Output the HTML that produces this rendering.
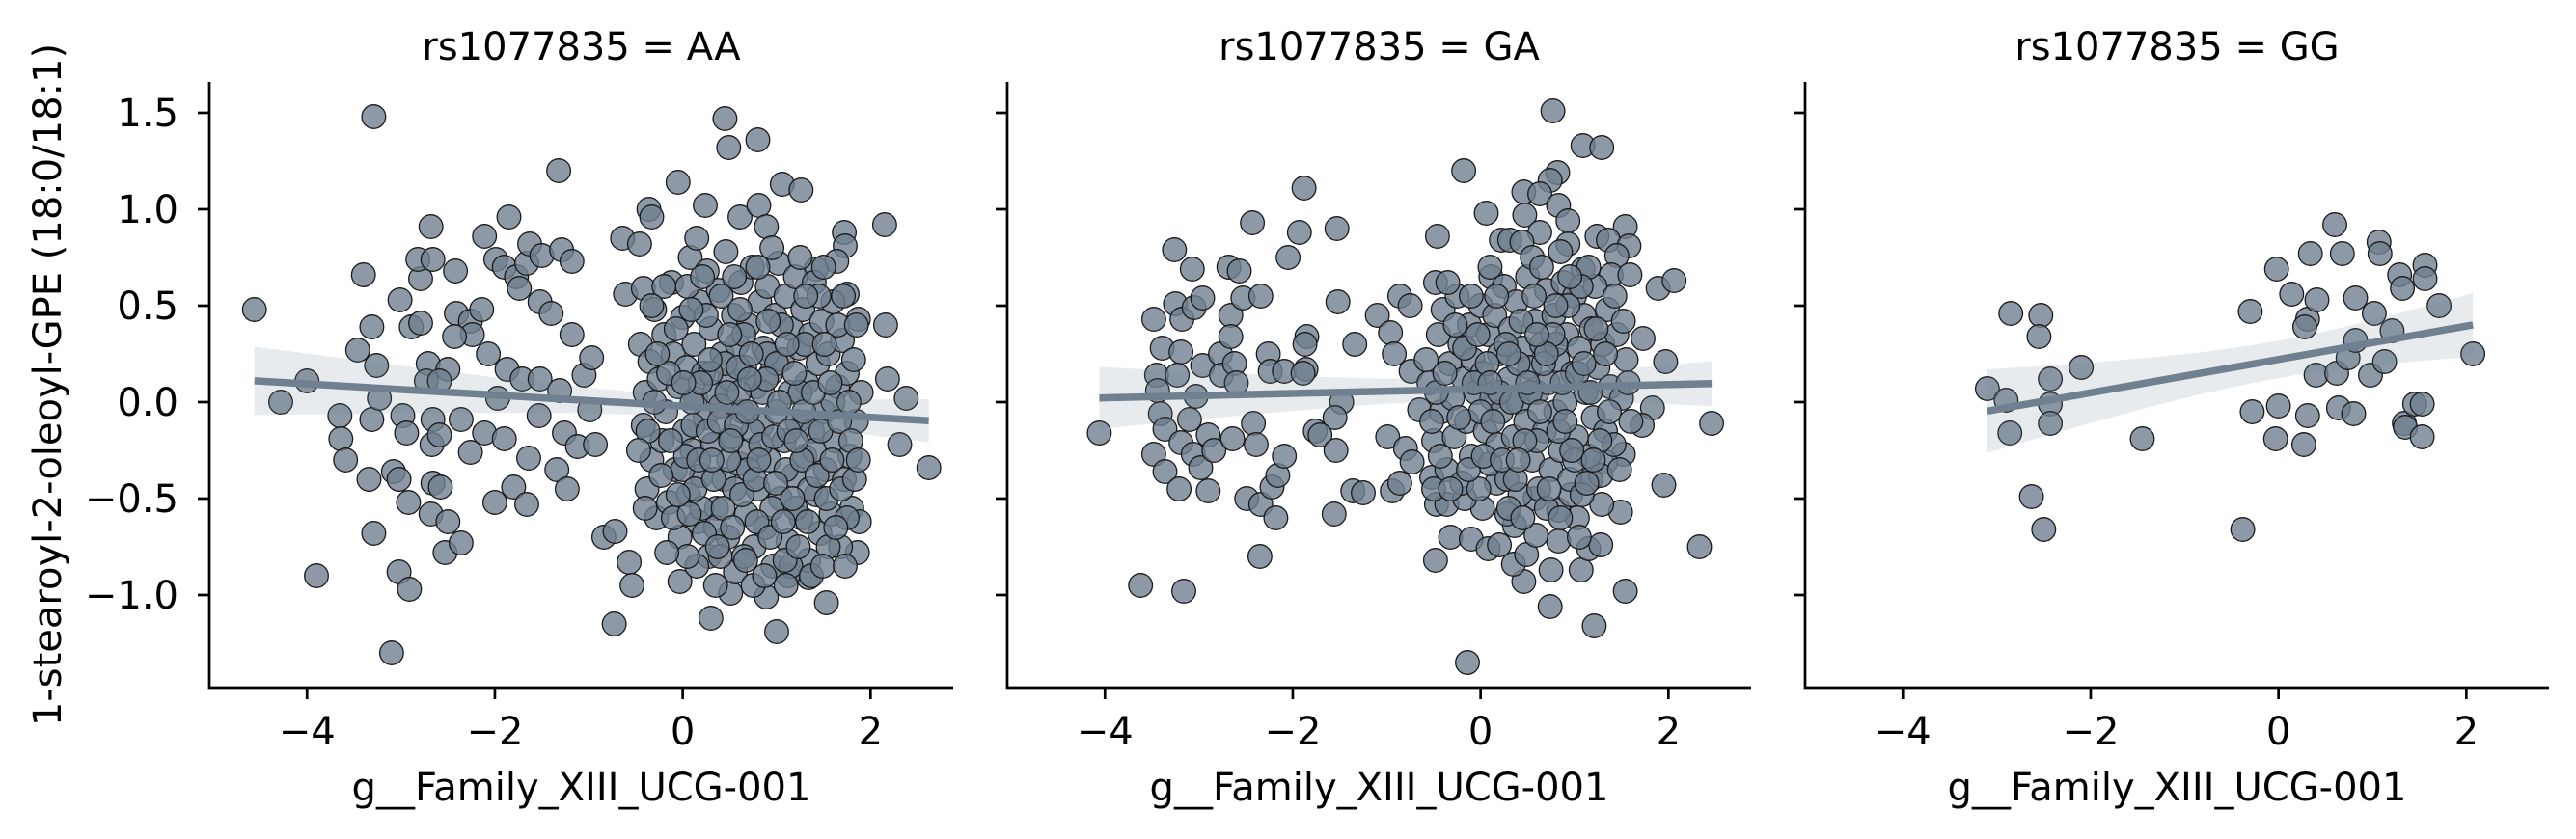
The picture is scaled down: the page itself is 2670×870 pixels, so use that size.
<!DOCTYPE html>
<html><head><meta charset="utf-8">
<style>
html,body{margin:0;padding:0;background:#fff;}
svg{display:block;font-family:"DejaVu Sans","Liberation Sans",sans-serif;}
</style></head>
<body>
<svg id="chart" width="2670" height="870" viewBox="0 0 2670 870" xmlns="http://www.w3.org/2000/svg"></svg>
<script>
// ---- data ----
const panelTitles = ["rs1077835 = AA", "rs1077835 = GA", "rs1077835 = GG"];
const xTicks = [-4, -2, 0, 2];
const yTicks = [1.5, 1.0, 0.5, 0.0, -0.5, -1.0];
const yTickLabels = ["1.5", "1.0", "0.5", "0.0", "\u22120.5", "\u22121.0"];
const xTickLabels = ["\u22124", "\u22122", "0", "2"];

const aaPoints = [
[-4.56,0.48],[-4.28,0.00],[-4.00,0.11],[-3.90,-0.90],[-3.40,0.66],[-3.46,0.27],[-3.31,0.39],[-3.29,1.48],[-3.29,-0.68],[-3.34,-0.40],
[-3.31,-0.09],[-3.65,-0.07],[-3.64,-0.19],[-3.59,-0.30],[-3.26,0.19],[-3.23,0.02],[-3.10,-1.30],[-3.02,-0.88],[-2.91,-0.97],[-2.92,-0.52],
[-3.08,-0.36],[-3.02,-0.40],[-3.01,0.53],[-2.89,0.39],[-2.79,0.41],[-2.79,0.64],[-2.82,0.74],[-2.68,0.91],[-2.66,0.74],[-2.71,0.20],
[-2.73,0.11],[-2.98,-0.07],[-2.94,-0.16],[-2.66,-0.09],[-2.67,-0.22],[-2.59,-0.17],[-2.66,-0.42],[-2.58,-0.44],[-2.68,-0.58],[-2.50,-0.62],
[-2.53,-0.78],[-2.36,-0.73],[-2.42,0.68],[-2.41,0.46],[-2.26,0.42],[-2.14,0.48],[-2.24,0.35],[-2.43,0.34],[-2.50,0.17],[-2.59,0.11],
[-2.36,-0.09],[-2.26,-0.26],[-2.11,-0.16],[-1.90,-0.19],[-2.00,-0.52],[-2.11,0.86],[-1.99,0.74],[-1.85,0.96],[-1.90,0.70],[-1.77,0.65],
[-1.74,0.59],[-1.66,0.72],[-1.63,0.82],[-1.50,0.76],[-1.29,0.79],[-1.18,0.73],[-1.32,1.20],[-1.52,0.52],[-1.40,0.46],[-1.18,0.35],
[-2.07,0.25],[-1.87,0.17],[-1.71,0.12],[-1.52,0.12],[-1.97,0.02],[-1.53,-0.07],[-1.64,-0.29],[-1.80,-0.44],[-1.66,-0.53],[-1.34,-0.35],
[-1.23,-0.45],[-1.26,-0.16],[-1.12,-0.23],[-0.93,-0.22],[-1.31,0.06],[-1.05,0.14],[-0.97,0.23],[-0.99,-0.04],[-0.73,-1.15],[-0.84,-0.70],
[-0.72,-0.67],[-0.57,-0.83],[-0.54,-0.95],[-0.64,0.85],[-0.61,0.56],[-0.46,0.82],[-0.42,0.59],[-0.36,1.00],[-0.33,0.96],[-0.05,1.14],
[0.24,1.02],[0.45,1.47],[0.49,1.32],[0.80,1.36],[1.06,1.13],[1.26,1.10],[0.61,0.96],[0.81,1.02],[0.89,0.91],[2.15,0.92],
[2.16,0.40],[2.38,0.02],[2.62,-0.34],[2.31,-0.22],[2.18,0.12],[1.86,-0.78],[1.53,-1.04],[1.00,-1.19],[0.30,-1.12],[-0.03,-0.93],
[0.51,-0.99],[1.34,-0.91],[1.12,-0.90],[0.89,-1.01],[1.72,0.88],[1.73,0.81],[1.75,0.56],[1.87,0.43],[1.64,0.73],[1.42,0.69],
[-0.45,0.30],[-0.42,-0.12],[-0.40,0.05],[-0.38,-0.45],[-0.35,0.21],[-0.33,-0.30],[-0.30,0.48],[-0.28,-0.60],[-0.25,0.12],[-0.22,-0.20],
[-0.20,0.35],[-0.18,-0.05],[-0.15,-0.52],[-0.12,0.62],[-0.10,0.25],[-0.08,-0.35],[-0.05,0.08],[-0.03,-0.70],[0.00,0.44],[0.02,-0.15],
[0.04,0.18],[0.06,-0.48],[0.08,0.75],[0.10,-0.25],[0.12,0.30],[0.14,0.02],[0.16,-0.62],[0.18,0.52],[0.20,-0.38],[0.22,0.15],
[0.24,-0.08],[0.26,0.68],[0.28,-0.80],[0.30,0.38],[0.32,-0.22],[0.34,0.05],[0.36,-0.55],[0.38,0.58],[0.40,-0.02],[0.42,0.25],
[0.44,-0.40],[0.46,0.78],[0.48,-0.70],[0.50,0.12],[0.52,-0.18],[0.54,0.45],[0.56,-0.88],[0.58,0.30],[0.60,-0.32],[0.62,0.62],
[0.64,-0.05],[0.66,0.18],[0.68,-0.58],[0.70,0.40],[0.72,-0.25],[0.74,0.70],[0.76,-0.75],[0.78,0.08],[0.80,-0.45],[0.82,0.52],
[0.84,-0.12],[0.86,0.28],[0.88,-0.65],[0.90,0.60],[0.92,-0.30],[0.94,0.15],[0.96,-0.85],[0.98,0.45],[1.00,-0.05],[1.02,0.72],
[1.04,-0.50],[1.06,0.22],[1.08,-0.20],[1.10,0.55],[1.12,-0.72],[1.14,0.05],[1.16,0.38],[1.18,-0.38],[1.20,0.65],[1.22,-0.10],
[1.24,0.28],[1.26,-0.60],[1.28,0.48],[1.30,-0.28],[1.32,0.10],[1.34,-0.82],[1.36,0.35],[1.38,-0.15],[1.40,0.62],[1.42,-0.48],
[1.44,0.20],[1.46,-0.68],[1.48,0.42],[1.50,-0.05],[1.52,-0.35],[1.55,0.25],[1.58,-0.58],[1.60,0.52],[1.62,-0.20],[1.65,0.08],
[1.68,-0.75],[1.70,0.32],[1.72,-0.40],[1.75,0.15],[1.78,-0.28],[1.80,-0.55],[1.82,0.22],[1.85,-0.10],[1.88,-0.62],[1.90,0.05],
[-0.20,0.60],[-0.10,-0.60],[0.05,0.60],[0.15,-0.85],[0.25,0.45],[0.35,-0.65],[0.45,0.20],[0.55,-0.45],[0.65,0.35],[0.75,-0.15],
[0.85,0.05],[0.95,-0.55],[1.05,0.40],[1.15,-0.85],[1.25,0.05],[1.35,-0.45],[1.45,0.55],[1.55,-0.75],[1.65,0.40],[1.75,-0.60],
[0.10,0.00],[0.30,0.15],[0.50,0.35],[0.70,-0.35],[0.90,0.25],[1.10,-0.35],[1.30,0.30],[0.20,-0.55],[0.40,-0.80],[0.60,0.05],
[0.80,0.70],[1.00,0.20],[1.20,-0.55],[1.40,-0.25],[1.60,0.00],[-0.30,0.00],[-0.15,0.15],[0.00,-0.35],[0.15,0.85],[0.55,0.65],
[0.95,0.80],[1.25,0.75],[0.35,-0.95],[0.75,-0.95],[1.10,-0.95],[0.65,-0.80],[0.05,-0.80],[-0.40,-0.55],[1.85,0.40],[1.50,0.70],
[0.03,-0.28],[0.07,-0.58],[0.11,-0.12],[0.13,-0.45],[0.17,-0.30],[0.19,0.10],[0.23,-0.68],[0.27,-0.15],[0.29,0.22],[0.33,-0.40],
[0.37,-0.75],[0.39,-0.10],[0.43,-0.55],[0.47,0.05],[0.49,-0.30],[0.53,-0.65],[0.57,-0.12],[0.59,0.18],[0.63,-0.48],[0.67,-0.82],
[0.69,-0.05],[0.73,0.25],[0.77,-0.40],[0.79,-0.62],[0.83,-0.22],[0.87,-0.90],[0.89,0.12],[0.93,-0.70],[0.97,-0.18],[0.99,-0.42],
[1.03,0.00],[1.07,-0.62],[1.09,-0.82],[1.13,-0.15],[1.17,-0.50],[1.19,0.15],[1.23,-0.75],[1.27,-0.30],[1.29,-0.05],[1.33,-0.62],
[1.37,-0.90],[1.39,0.05],[1.43,-0.38],[1.47,-0.15],[1.49,-0.85],[1.53,-0.50],[1.57,0.10],[1.59,-0.30],[1.63,-0.65],[1.67,-0.10],
[1.69,-0.45],[1.73,-0.85],[1.77,0.00],[1.79,-0.20],[1.83,-0.40],[1.87,-0.30],[-0.05,-0.48],[-0.13,-0.20],[-0.23,-0.38],[-0.27,0.25],
[-0.37,-0.15],[-0.47,-0.25],[-0.17,-0.78],[-0.07,0.38],[0.09,0.48],[0.21,0.65],[0.41,0.55],[0.61,0.48],[0.71,0.12],[0.91,0.42],
[1.11,0.30],[1.31,0.55],[1.51,0.30],[1.71,0.55],[0.51,-0.20],[0.81,-0.30],[1.21,-0.20],[0.31,-0.30],[0.01,0.10],[-0.33,0.50]
];

const gaPoints = [
[-4.06,-0.16],[-3.62,-0.95],[-3.16,-0.98],[-3.26,0.79],[-3.07,0.69],[-3.48,0.43],[-3.25,0.51],[-3.18,0.43],[-3.05,0.49],[-2.96,0.54],
[-3.39,0.28],[-3.19,0.26],[-3.45,0.14],[-3.23,0.14],[-3.44,0.06],[-2.96,0.19],[-3.03,0.03],[-3.41,-0.06],[-3.36,-0.14],[-3.10,-0.09],
[-3.19,-0.21],[-3.48,-0.27],[-3.36,-0.36],[-3.21,-0.45],[-3.06,-0.27],[-2.98,-0.34],[-2.90,-0.46],[-2.90,-0.17],[-2.84,-0.25],[-2.77,0.25],
[-2.76,0.14],[-2.68,0.70],[-2.57,0.68],[-2.66,0.45],[-2.66,0.34],[-2.62,0.20],[-2.60,0.10],[-2.53,0.54],[-2.43,0.93],[-2.34,0.55],
[-2.26,0.25],[-2.24,0.16],[-2.09,0.16],[-2.64,-0.19],[-2.42,-0.11],[-2.39,-0.22],[-2.49,-0.50],[-2.34,-0.53],[-2.18,-0.60],[-2.22,-0.44],
[-2.16,-0.38],[-2.09,-0.28],[-2.35,-0.80],[-2.05,0.75],[-1.93,0.88],[-1.88,1.11],[-1.53,0.90],[-1.85,0.34],[-1.87,0.30],[-1.86,0.17],
[-1.89,0.15],[-1.52,0.52],[-1.34,0.30],[-1.48,0.00],[-1.55,-0.08],[-1.76,-0.15],[-1.71,-0.17],[-1.54,-0.25],[-1.56,-0.58],[-1.36,-0.46],
[-1.25,-0.47],[-1.10,0.45],[-0.96,0.36],[-0.92,0.25],[-0.86,0.55],[-0.75,0.50],[-0.99,-0.18],[-0.80,-0.24],[-0.73,-0.31],[-0.94,-0.46],
[-0.86,-0.42],[-0.52,-0.39],[-0.47,-0.53],[-0.36,-0.53],[-0.32,-0.70],[-0.10,-0.71],[-0.48,-0.82],[-0.14,-1.35],[-0.18,1.20],[-0.46,0.86],
[0.06,0.98],[-0.48,0.62],[0.11,0.65],[-0.74,0.16],[-0.65,-0.04],
[0.77,1.51],[1.09,1.33],[1.29,1.32],[0.82,1.19],[0.74,1.15],[0.46,1.09],[0.63,1.08],[0.83,1.02],[0.47,0.97],[0.93,0.94],
[1.54,0.91],[1.24,0.86],[1.36,0.84],[1.58,0.81],[0.93,0.82],[0.63,0.88],[0.22,0.84],[0.31,0.84],[0.44,0.83],[1.45,0.76],
[1.09,0.69],[1.39,0.66],[1.59,0.66],[1.89,0.59],[2.06,0.63],[1.97,0.21],[1.73,0.33],[1.83,-0.03],[1.72,-0.12],[2.46,-0.11],
[1.52,-0.27],[1.95,-0.43],[2.33,-0.75],[1.49,-0.57],[1.29,-0.53],[1.54,-0.98],[1.21,-1.16],[0.74,-1.06],[1.07,-0.87],[0.75,-0.87],
[0.46,-0.93],[0.35,-0.84],[0.49,-0.79],[0.08,-0.76],[0.20,-0.74],[0.83,-0.72],[1.15,-0.76],[1.28,-0.74],[0.59,-0.69],[0.36,-0.64],
[0.28,-0.58],[0.58,-0.50],[0.02,-0.55],[-0.17,-0.50],[0.17,-0.42],[1.03,-0.60],[0.83,-0.56],[0.96,-0.48],[1.17,-0.40],[1.33,-0.31],
[-0.55,0.10],[-0.50,-0.20],[-0.45,0.35],[-0.42,-0.05],[-0.40,0.48],[-0.36,-0.35],[-0.33,0.20],[-0.30,0.02],[-0.28,-0.18],[-0.25,0.55],
[-0.22,0.30],[-0.20,-0.42],[-0.18,0.12],[-0.15,-0.10],[-0.12,0.40],[-0.10,-0.28],[-0.08,0.22],[-0.05,0.05],[-0.02,-0.45],[0.00,0.50],
[0.02,0.15],[0.05,-0.15],[0.08,0.35],[0.10,-0.32],[0.12,0.02],[0.15,0.45],[0.18,-0.22],[0.20,0.25],[0.22,-0.05],[0.25,0.60],
[0.28,-0.40],[0.30,0.12],[0.32,0.38],[0.35,-0.18],[0.38,0.52],[0.40,0.00],[0.42,-0.48],[0.45,0.28],[0.48,-0.10],[0.50,0.65],
[0.52,0.18],[0.55,-0.30],[0.58,0.42],[0.60,0.05],[0.62,-0.45],[0.65,0.30],[0.68,-0.15],[0.70,0.58],[0.72,0.10],[0.75,-0.35],
[0.78,0.45],[0.80,-0.05],[0.82,0.22],[0.85,-0.25],[0.88,0.62],[0.90,0.00],[0.92,0.35],[0.95,-0.40],[0.98,0.15],[1.00,0.55],
[1.02,-0.18],[1.05,0.28],[1.08,-0.48],[1.10,0.45],[1.12,0.05],[1.15,-0.28],[1.18,0.38],[1.20,-0.08],[1.22,0.60],[1.25,0.18],
[1.28,-0.38],[1.30,0.30],[1.33,-0.15],[1.35,0.48],[1.38,0.08],[1.42,-0.22],[1.45,0.35],[1.50,0.02],[1.55,0.22],[1.60,-0.10],
[0.00,-0.05],[0.20,0.05],[0.40,0.20],[0.60,-0.20],[0.80,0.30],[1.00,-0.30],[0.30,-0.55],[0.70,-0.55],[0.55,0.75],[0.85,0.78],
[-0.35,0.62],[0.10,0.70],[1.15,0.70],[-0.50,-0.45],
[-0.58,0.22],[-0.52,-0.10],[-0.47,0.05],[-0.43,-0.28],[-0.38,0.15],[-0.32,-0.45],[-0.27,0.40],[-0.23,-0.08],[-0.17,0.28],[-0.13,-0.35],
[-0.07,0.10],[-0.03,0.35],[0.03,-0.28],[0.07,0.20],[0.13,-0.10],[0.17,0.55],[0.23,-0.30],[0.27,0.30],[0.33,0.00],[0.37,-0.40],
[0.43,0.42],[0.47,-0.20],[0.53,0.05],[0.57,0.55],[0.63,-0.05],[0.67,0.20],[0.73,-0.45],[0.77,0.35],[0.83,-0.15],[0.87,0.10],
[0.93,0.50],[0.97,-0.25],[1.03,0.15],[1.07,0.60],[1.13,-0.42],[1.17,0.05],[1.23,0.38],[1.27,-0.20],[1.33,0.25],[1.37,-0.05],
[1.43,0.55],[1.48,-0.35],[1.52,0.42],[1.57,0.10],[0.50,0.10],[0.70,0.25],[0.90,-0.10],[0.30,0.25],[0.10,0.10],[1.10,0.20],
[0.60,0.35],[0.40,-0.30],[0.80,0.50],[1.20,-0.30],[-0.10,0.55],[0.95,0.65],[0.65,0.70],[0.45,-0.60],[0.85,-0.60],[1.05,-0.70]
];

const ggPoints = [
[-3.10,0.07],[-2.90,0.01],[-2.86,-0.16],[-2.85,0.46],[-2.63,-0.49],[-2.53,0.45],[-2.55,0.34],[-2.50,-0.66],[-2.43,0.12],[-2.43,-0.01],
[-2.43,-0.11],[-2.10,0.18],[-1.45,-0.19],[-0.38,-0.66],[-0.30,0.47],[-0.28,-0.05],[-0.02,0.69],[0.00,-0.02],[-0.03,-0.19],[0.14,0.56],
[0.27,-0.22],[0.31,-0.07],[0.31,0.43],[0.28,0.39],[0.34,0.77],[0.41,0.53],[0.40,0.14],[0.60,0.92],[0.62,0.15],[0.64,-0.03],
[0.68,0.77],[0.74,0.23],[0.80,-0.06],[0.82,0.54],[0.82,0.32],[0.98,0.14],[1.02,0.46],[1.07,0.83],[1.08,0.77],[1.13,0.21],
[1.21,0.37],[1.29,0.66],[1.32,0.59],[1.34,-0.11],[1.35,-0.13],[1.45,-0.01],[1.53,-0.01],[1.53,-0.18],[1.56,0.71],[1.56,0.64],
[1.71,0.50],[2.07,0.25]
];

// ---- layout ----
const NS = "http://www.w3.org/2000/svg";
const svg = document.getElementById("chart");
const panelLefts = [217, 1044, 1871];
const plotW = 771, plotTop = 85, plotBottom = 713;
const xMin = -5.04, xMax = 2.88, yMin = -1.48, yMax = 1.66;
const allPanels = [aaPoints, gaPoints, ggPoints];
const panelKeys = ["aa", "ga", "gg"];

function el(tag, attrs, parent) {
  const e = document.createElementNS(NS, tag);
  for (const k in attrs) e.setAttribute(k, attrs[k]);
  (parent || svg).appendChild(e);
  return e;
}

function regress(pts) {
  const n = pts.length;
  let mx = 0, my = 0;
  pts.forEach(p => { mx += p[0]; my += p[1]; });
  mx /= n; my /= n;
  let sxx = 0, sxy = 0;
  pts.forEach(p => { sxx += (p[0]-mx)*(p[0]-mx); sxy += (p[0]-mx)*(p[1]-my); });
  const b = sxy / sxx, a = my - b*mx;
  let sse = 0;
  pts.forEach(p => { const r = p[1]-(a+b*p[0]); sse += r*r; });
  const s = Math.sqrt(sse/(n-2));
  return {a, b, s, n, mx, sxx};
}

allPanels.forEach((pts, pi) => {
  const L = panelLefts[pi];
  const xs = v => L + (v - xMin) / (xMax - xMin) * plotW;
  const ys = v => plotTop + (yMax - v) / (yMax - yMin) * (plotBottom - plotTop);
  const g = el("g", {});
  
  

  const t = el("text", {x: L + plotW/2, y: 62, "text-anchor": "middle", "font-size": 40, fill: "#000"}, g);
  t.textContent = panelTitles[pi];
  
  

  const pg = el("g", {}, g);
  
  
  pts.forEach(p => {
    const c = el("circle", {cx: xs(p[0]).toFixed(1), cy: ys(p[1]).toFixed(1), r: 12.3,
      fill: "rgba(112,128,144,0.8)", stroke: "#1a1a1a", "stroke-width": 1.3}, pg);
    
    
  });

  const R = regress(pts);
  let x0 = Infinity, x1 = -Infinity;
  pts.forEach(p => { x0 = Math.min(x0, p[0]); x1 = Math.max(x1, p[0]); });
  const N = 60, up = [], lo = [];
  for (let i = 0; i <= N; i++) {
    const xv = x0 + (x1 - x0) * i / N;
    const yv = R.a + R.b * xv;
    const se = R.s * Math.sqrt(1/R.n + (xv - R.mx)*(xv - R.mx)/R.sxx) * 1.96;
    up.push(xs(xv).toFixed(1) + "," + ys(yv + se).toFixed(1));
    lo.push(xs(xv).toFixed(1) + "," + ys(yv - se).toFixed(1));
  }
  const band = el("polygon", {points: up.concat(lo.reverse()).join(" "), fill: "rgba(112,128,144,0.16)", stroke: "none"}, g);
  
  
  const line = el("line", {x1: xs(x0), y1: ys(R.a + R.b*x0), x2: xs(x1), y2: ys(R.a + R.b*x1),
    stroke: "#708090", "stroke-width": 7.5}, g);
  
  

  const ax = el("path", {d: `M${L},${plotTop} L${L},${plotBottom} L${L+plotW},${plotBottom}`, fill: "none", stroke: "#000", "stroke-width": 2.7}, g);
  
  

  xTicks.forEach((tv, i) => {
    const X = xs(tv);
    el("line", {x1: X, y1: plotBottom, x2: X, y2: plotBottom + 12, stroke: "#000", "stroke-width": 2.7}, g);
    const tl = el("text", {x: X, y: 772, "text-anchor": "middle", "font-size": 40, fill: "#000"}, g);
    tl.textContent = xTickLabels[i];
    
    
  });
  yTicks.forEach((tv, i) => {
    const Y = ys(tv);
    el("line", {x1: L - 12, y1: Y, x2: L, y2: Y, stroke: "#000", "stroke-width": 2.7}, g);
    if (pi === 0) {
      const tl = el("text", {x: L - 32, y: Y + 14, "text-anchor": "end", "font-size": 40, fill: "#000"}, g);
      tl.textContent = yTickLabels[i];
      
      
    }
  });

  const xl = el("text", {x: L + plotW/2, y: 830, "text-anchor": "middle", "font-size": 40, fill: "#000"}, g);
  xl.textContent = "g__Family_XIII_UCG-001";
  
  
});

const yl = el("text", {x: 0, y: 0, "text-anchor": "middle", "font-size": 40, fill: "#000",
  transform: "translate(63,399) rotate(-90)"});
yl.textContent = "1-stearoyl-2-oleoyl-GPE (18:0/18:1)";


</script>
</body></html>
